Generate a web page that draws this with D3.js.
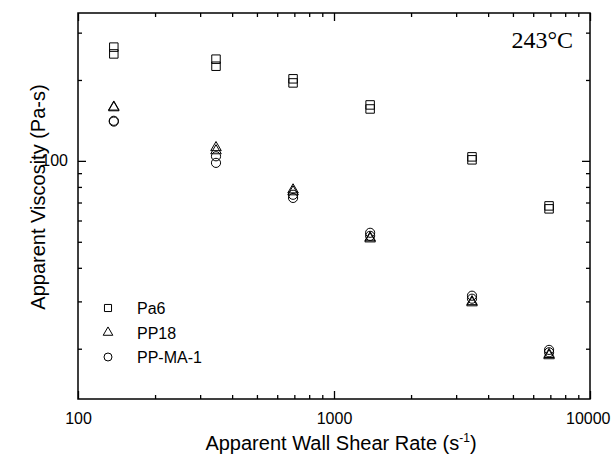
<!DOCTYPE html>
<html>
<head>
<meta charset="utf-8">
<script src="https://cdn.jsdelivr.net/npm/d3@7"></script>
<style>
  body { margin: 0; background: #fff; }
  svg text { font-family: "Liberation Sans", Arial, sans-serif; fill: #000; }
</style>
</head>
<body>
<div id="chart"></div>
<script>
// shear rates (1/s), two runs per rate
const shearRates = [138, 346, 692, 1384, 3460, 6920];
const pa6A = [265, 239, 202, 161.5, 103.5, 68.0];
const pa6B = [250, 225, 195, 156, 100.9, 66.3];
const pp18A = [160, 113, 78.7, 52.2, 30.2, 19.2];
const pp18B = [159, 110, 77.4, 51.7, 29.9, 19.0];
const ppmaA = [141, 104, 74.8, 54.0, 31.5, 19.8];
const ppmaB = [140, 98.3, 72.8, 52.6, 30.7, 19.4];
const xTickLabels = [100, 1000, 10000];
const yTickLabels = [100];

const width = 611, height = 460;
const margin = { top: 13, right: 21, bottom: 61, left: 78 };
const w = width - margin.left - margin.right;
const h = height - margin.top - margin.bottom;

const svg = d3.select('#chart').append('svg')
  .attr('width', width).attr('height', height);
const g = svg.append('g').attr('transform', `translate(${margin.left},${margin.top})`);

const x = d3.scaleLog().domain([100, 10000]).range([0, w]);
const y = d3.scaleLog().domain([13, 355]).range([h, 0]);

const xMinor = [];
[100, 1000].forEach(d => { for (let k = 2; k <= 9; k++) xMinor.push(d * k); });
const yMinor = [20, 30, 40, 50, 60, 70, 80, 90, 200, 300];

// ticks inward on all four sides
const axes = [
  { ax: d3.axisBottom(x), t: `translate(0,${h})`, pad: 14 },
  { ax: d3.axisTop(x), t: 'translate(0,0)', pad: 12 },
  { ax: d3.axisLeft(y), t: 'translate(0,0)', pad: 10 },
  { ax: d3.axisRight(y), t: `translate(${w},0)`, pad: 12 }
];
axes.forEach((a, i) => {
  const isX = i < 2;
  const major = isX ? xTickLabels : yTickLabels;
  const minor = isX ? xMinor : yMinor;
  g.append('g').attr('transform', a.t)
    .call(a.ax.tickValues(minor).tickSize(-4).tickFormat(''))
    .call(s => s.select('.domain').remove())
    .selectAll('line').attr('stroke', '#000').attr('stroke-width', 1.3);
  const mg = g.append('g').attr('transform', a.t)
    .call(a.ax.tickValues(major).tickSize(-8).tickPadding(a.pad)
      .tickFormat((i === 0 || i === 2) ? d3.format('d') : ''))
    .call(s => s.select('.domain').remove());
  mg.selectAll('line').attr('stroke', '#000').attr('stroke-width', 1.3);
  mg.selectAll('text').attr('font-size', 16);
  if (i === 0) {
    // last label sits at the page edge
    mg.selectAll('text').filter(d => d === 10000)
      .attr('text-anchor', 'end').attr('x', 20);
  }
});

g.append('rect').attr('width', w).attr('height', h)
  .attr('fill', 'none').attr('stroke', '#000').attr('stroke-width', 1.5);

// markers
const symSquare = d3.symbol().type(d3.symbolSquare).size(72);
const symTri = d3.symbol().type(d3.symbolTriangle).size(48);
const symCircle = d3.symbol().type(d3.symbolCircle).size(66);

const series = [
  { name: 'Pa6', runs: [pa6A, pa6B], sym: symSquare, dy: 0 },
  { name: 'PP18', runs: [pp18A, pp18B], sym: symTri, dy: 1 },
  { name: 'PP-MA-1', runs: [ppmaA, ppmaB], sym: symCircle, dy: 0 }
];

series.forEach(s => {
  s.runs.forEach(run => {
    g.selectAll(null).data(run).enter().append('path')
      .attr('d', s.sym())
      .attr('transform', (d, i) => `translate(${x(shearRates[i])},${y(d) + s.dy})`)
      .attr('fill', 'none').attr('stroke', '#000').attr('stroke-width', 1);
  });
});

// legend
const legend = g.append('g').attr('transform', `translate(${30},${295})`);
series.forEach((s, i) => {
  legend.append('path').attr('d', s.sym.size(s.sym === symTri ? 40 : 50)())
    .attr('transform', `translate(0,${i * 24.5})`)
    .attr('fill', 'none').attr('stroke', '#000').attr('stroke-width', 1);
  legend.append('text').attr('x', 29).attr('y', i * 24.5 + 6)
    .attr('font-size', 16).text(s.name);
});

// temperature label
g.append('text').attr('x', w - 17).attr('y', 35)
  .attr('text-anchor', 'end')
  .style('font-family', '"Liberation Serif", "Times New Roman", serif')
  .attr('font-size', 24).text('243°C');

// axis titles
const xt = svg.append('text').attr('x', 341).attr('y', 450)
  .attr('text-anchor', 'middle').attr('font-size', 20);
xt.append('tspan').text('Apparent Wall Shear Rate (s');
xt.append('tspan').attr('dy', -8).attr('font-size', 12).text('-1');
xt.append('tspan').attr('dy', 8).text(')');

svg.append('text')
  .attr('transform', `translate(45,197) rotate(-90)`)
  .attr('text-anchor', 'middle').attr('font-size', 20)
  .text('Apparent Viscosity (Pa-s)');
</script>
</body>
</html>
